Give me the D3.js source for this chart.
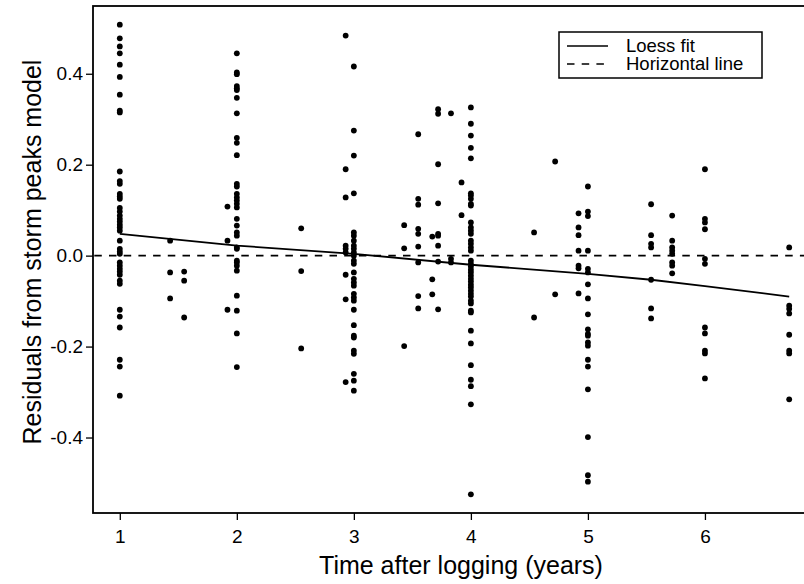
<!DOCTYPE html>
<html>
<head>
<meta charset="utf-8">
<script src="https://cdn.jsdelivr.net/npm/d3@7"></script>
<style>
  body { margin: 0; background: #fff; }
  text { font-family: "Liberation Sans", Arial, sans-serif; }
</style>
</head>
<body>
<div id="chart"></div>
<script>
// years after logging for each vertical group of points
var groupYears = [1, 1.43, 1.55, 1.92, 2, 2.55, 2.93, 3, 3.43, 3.55, 3.67, 3.72, 3.83, 3.92,
                  4, 4.54, 4.72, 4.92, 5, 5.54, 5.72, 6, 6.72];

// residuals in each group, same order as groupYears
var groupResiduals = [
  [0.508, 0.478, 0.460, 0.445, 0.420, 0.393, 0.354, 0.319, 0.315, 0.185, 0.164, 0.158, 0.136, 0.130,
   0.125, 0.105, 0.097, 0.088, 0.081, 0.075, 0.068, 0.062, 0.055, 0.033, 0.015, 0.009, 0.004, -0.015,
   -0.022, -0.029, -0.035, -0.042, -0.055, -0.062, -0.119, -0.134, -0.158, -0.229, -0.244, -0.308],
  [0.033, -0.037, -0.094],
  [-0.035, -0.055, -0.136],
  [0.108, 0.033, -0.119],
  [0.445, 0.403, 0.399, 0.373, 0.368, 0.364, 0.347, 0.313, 0.259, 0.248, 0.221, 0.158, 0.152, 0.136,
   0.128, 0.121, 0.114, 0.106, 0.081, 0.066, 0.051, 0.044, 0.018, 0.015, -0.011, -0.015, -0.022,
   -0.033, -0.088, -0.121, -0.171, -0.245],
  [0.060, -0.034, -0.204],
  [0.484, 0.190, 0.128, 0.022, 0.015, 0.007, -0.042, -0.096, -0.278],
  [0.416, 0.275, 0.220, 0.137, 0.051, 0.044, 0.033, 0.022, 0.015, 0.007, 0, -0.011, -0.018, -0.037,
   -0.051, -0.059, -0.066, -0.084, -0.092, -0.099, -0.119, -0.153, -0.176, -0.180, -0.209, -0.216,
   -0.260, -0.275, -0.297],
  [0.067, 0.016, -0.199],
  [0.267, 0.125, 0.112, 0.059, 0.048, 0.020, -0.015, -0.089, -0.116],
  [0.042, -0.052, -0.085],
  [0.322, 0.312, 0.201, 0.115, 0.048, 0.044, 0.022, -0.013, -0.118],
  [0.313, -0.007, -0.015],
  [0.161, 0.089],
  [0.326, 0.290, 0.264, 0.237, 0.214, 0.137, 0.132, 0.125, 0.114, 0.110, 0.073, 0.062, 0.055, 0.048,
   0.033, 0.026, 0.018, 0.011, -0.011, -0.018, -0.024, -0.031, -0.037, -0.044, -0.051, -0.057, -0.064,
   -0.070, -0.077, -0.084, -0.090, -0.099, -0.105, -0.121, -0.125, -0.165, -0.193, -0.241, -0.273,
   -0.287, -0.327, -0.525],
  [0.051, -0.136],
  [0.207, -0.085],
  [0.093, 0.062, 0.045, 0.011, -0.022, -0.028, -0.083],
  [0.152, 0.097, 0.087, 0.011, -0.029, -0.037, -0.063, -0.094, -0.129, -0.162, -0.172, -0.176, -0.191,
   -0.198, -0.229, -0.244, -0.294, -0.399, -0.483, -0.497],
  [0.113, 0.045, 0.026, 0.018, -0.053, -0.116, -0.138],
  [0.088, 0.033, 0.018, 0.011, 0.004, -0.015, -0.022, -0.039],
  [0.190, 0.081, 0.073, 0.058, -0.007, -0.018, -0.158, -0.171, -0.209, -0.215, -0.270],
  [0.018, -0.110, -0.117, -0.127, -0.174, -0.209, -0.215, -0.316]
];

// loess fit
var loessYears = [1, 2, 3, 4, 5, 5.54, 6, 6.72];
var loessFit = [0.048, 0.022, 0.004, -0.020, -0.040, -0.053, -0.067, -0.090];

var xTicks = [1, 2, 3, 4, 5, 6];
var yTicks = [-0.4, -0.2, 0.0, 0.2, 0.4];
var yTickLabels = ["-0.4", "-0.2", "0.0", "0.2", "0.4"];

var legendLabels = ["Loess fit", "Horizontal line"];

// flatten groups into points
var points = [];
groupYears.forEach(function(yr, i) {
  groupResiduals[i].forEach(function(r) {
    points.push({x: yr, y: r});
  });
});

var width = 804, height = 584;
var plot = {left: 93, right: 816, top: 6, bottom: 513};

var svg = d3.select("#chart").append("svg")
    .attr("width", width)
    .attr("height", height);

var x = d3.scaleLinear()
    .domain([0.771, 6.949])
    .range([plot.left, plot.right]);

var y = d3.scaleLinear()
    .domain([-0.566, 0.549])
    .range([plot.bottom, plot.top]);

// axes
var xAxis = svg.append("g")
    .attr("transform", "translate(0," + plot.bottom + ")")
    .call(d3.axisBottom(x).tickValues(xTicks).tickFormat(d3.format("d")).tickSize(7).tickPadding(10));

var yAxis = svg.append("g")
    .attr("transform", "translate(" + plot.left + ",0)")
    .call(d3.axisLeft(y).tickValues(yTicks)
      .tickFormat(function(d, i) { return yTickLabels[i]; })
      .tickSize(7).tickPadding(3));

[xAxis, yAxis].forEach(function(ax) {
  ax.select(".domain").remove();
  ax.selectAll("line").attr("stroke", "#000").attr("stroke-width", 1.3);
  ax.selectAll("text").attr("font-size", 19).attr("fill", "#000")
    .style("font-family", "'Liberation Sans', Arial, sans-serif");
});

// box
svg.append("rect")
    .attr("x", plot.left)
    .attr("y", plot.top)
    .attr("width", plot.right - plot.left)
    .attr("height", plot.bottom - plot.top)
    .attr("fill", "none")
    .attr("stroke", "#000")
    .attr("stroke-width", 1.8);

// horizontal reference line
svg.append("line")
    .attr("x1", x(0.771))
    .attr("x2", x(6.949))
    .attr("y1", y(0))
    .attr("y2", y(0))
    .attr("stroke", "#000")
    .attr("stroke-width", 1.8)
    .attr("stroke-dasharray", "7.5,7.2")
    .attr("stroke-dashoffset", 13.4);

// points
svg.selectAll(".pt")
  .data(points)
  .enter()
  .append("circle")
  .attr("class", "pt")
  .attr("cx", function(d) { return x(d.x); })
  .attr("cy", function(d) { return y(d.y); })
  .attr("r", 2.9)
  .attr("fill", "#000");

// loess line
var line = d3.line()
    .x(function(d, i) { return x(loessYears[i]); })
    .y(function(d) { return y(d); });

svg.append("path")
    .datum(loessFit)
    .attr("d", line)
    .attr("fill", "none")
    .attr("stroke", "#000")
    .attr("stroke-width", 1.8);

// axis titles
svg.append("text")
    .text("Time after logging (years)")
    .attr("x", 461)
    .attr("y", 574)
    .attr("text-anchor", "middle")
    .attr("font-size", 25);

svg.append("text")
    .text("Residuals from storm peaks model")
    .attr("transform", "translate(41,252) rotate(-90)")
    .attr("text-anchor", "middle")
    .attr("font-size", 25);

// legend
var legend = svg.append("g");
legend.append("rect")
    .attr("x", 559)
    .attr("y", 32)
    .attr("width", 203)
    .attr("height", 46)
    .attr("fill", "#fff")
    .attr("stroke", "#000")
    .attr("stroke-width", 1.5);

legendLabels.forEach(function(lab, i) {
  var ly = 46 + i * 18;
  legend.append("line")
      .attr("x1", 567)
      .attr("x2", 608)
      .attr("y1", ly)
      .attr("y2", ly)
      .attr("stroke", "#000")
      .attr("stroke-width", 1.5)
      .attr("stroke-dasharray", i === 1 ? "7.5,7.2" : null);
  legend.append("text")
      .text(lab)
      .attr("x", 626)
      .attr("y", ly + 6)
      .attr("font-size", 18.5);
});
</script>
</body>
</html>
